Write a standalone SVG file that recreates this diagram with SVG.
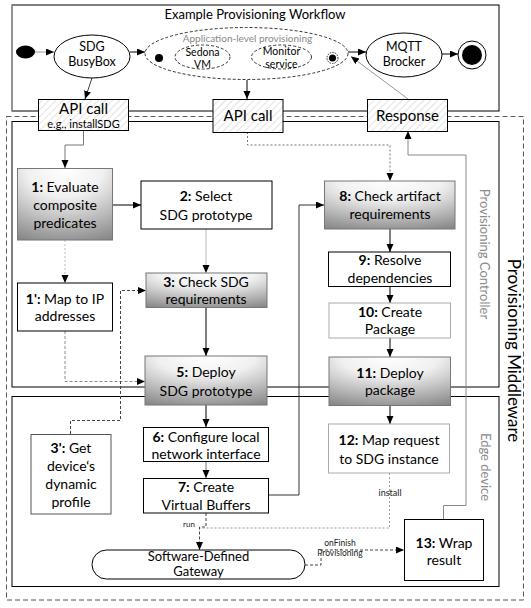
<svg xmlns="http://www.w3.org/2000/svg" width="531" height="608" viewBox="0 0 531 608">
<style>
text{font-family:Lato,"Open Sans","Liberation Sans",sans-serif;fill:#000}
.t14{font-size:14px;text-anchor:middle}
.t13{font-size:13px;text-anchor:middle}
.t12{font-size:12.5px;text-anchor:middle}
.t11{font-size:10.5px;text-anchor:middle}
.small{font-size:9px;text-anchor:middle;fill:#222}
.gl{font-size:13px;text-anchor:middle;fill:#8a8a8a}
.b{font-weight:bold}
.box{fill:#fff;stroke:#000;stroke-width:1}
.boxg{fill:#fff;stroke:#aaa;stroke-width:1}
.grad{fill:url(#g);stroke:#777;stroke-width:1}
.hat{fill:url(#h);stroke:#000;stroke-width:1}
.solid{fill:none;stroke:#000;stroke-width:1;marker-end:url(#a)}
.gray{fill:none;stroke:#999;stroke-width:1;marker-end:url(#a)}
.dot{fill:none;stroke:#777;stroke-width:1;stroke-dasharray:2,2;marker-end:url(#a)}
.dash{fill:none;stroke:#444;stroke-width:1;stroke-dasharray:3,2;marker-end:url(#a)}
.ell{fill:#fff;stroke:#000;stroke-width:1}
.elld{fill:#fff;stroke:#333;stroke-width:1;stroke-dasharray:3,2}
</style>
<defs>
<marker id="a" markerUnits="userSpaceOnUse" markerWidth="9" markerHeight="8" refX="8" refY="3.5" orient="auto"><path d="M0,0 L8,3.5 L0,7 z" fill="#000"/></marker>
<radialGradient id="g" cx="0.5" cy="0" r="1.15" fx="0.5" fy="0"><stop offset="0" stop-color="#ffffff"/><stop offset="0.35" stop-color="#f0f0f0"/><stop offset="1" stop-color="#7e7e7e"/></radialGradient>
<pattern id="h" patternUnits="userSpaceOnUse" width="5" height="5" patternTransform="rotate(45)"><rect width="5" height="5" fill="#fff"/><line x1="0" y1="0" x2="0" y2="5" stroke="#c8c8c8" stroke-width="1"/></pattern>
</defs>

<g id="containers">
<rect id="workflow-box" x="12" y="5" width="487" height="106" fill="#fff" stroke="#000"/>
<line x1="12" y1="5" x2="12" y2="111" stroke="#aaa"/>
<rect id="middleware-box" x="6.5" y="116.5" width="517" height="483.5" fill="none" stroke="#555" stroke-dasharray="5,3"/>
<rect id="controller-box" x="12" y="121.5" width="487" height="265.5" fill="none" stroke="#000"/>
<rect id="edge-box" x="12" y="396.5" width="487" height="190" fill="none" stroke="#000"/>
<text x="255" y="19" class="t13">Example Provisioning Workflow</text>
<text class="gl" transform="translate(480,254) rotate(90)">Provisioning Controller</text>
<text class="gl" transform="translate(481,467) rotate(90)">Edge device</text>
<text transform="translate(508,350.5) rotate(90)" style="font-size:17px;text-anchor:middle">Provisioning Middleware</text>
</g>

<g id="connectors">
<line x1="35" y1="52" x2="54" y2="52" class="gray"/>
<line x1="130" y1="52" x2="145" y2="52" class="solid"/>
<line x1="163" y1="58" x2="175" y2="58" class="dot"/>
<line x1="230" y1="57" x2="251" y2="57" class="dot" style="stroke:#bbb"/>
<line x1="312" y1="57" x2="326.5" y2="57" class="solid"/>
<line x1="348" y1="52" x2="366" y2="52" class="solid"/>
<line x1="442" y1="54" x2="458" y2="54" class="solid"/>
<line x1="92" y1="78" x2="85" y2="99" class="solid" style="stroke:#444"/>
<line x1="247" y1="80" x2="247" y2="99" class="solid"/>
<line x1="408" y1="99" x2="351" y2="56.5" class="gray"/>
<path d="M83.5,131 V145 H65 V168" class="gray" style="stroke:#777"/>
<path d="M247.5,132 V145 H390 V181" class="dot"/>
<path d="M113,205 H141" class="solid"/>
<path d="M206,229 V273" class="gray" style="stroke:#bbb"/>
<path d="M65,240 V283" class="dot" style="stroke:#bbb"/>
<path d="M206,307 V356" class="solid"/>
<path d="M65,331 V381.5 H145" class="dash" style="stroke:#888"/>
<path d="M70.5,434 V420.5 H120.5 V290.5 H146" class="dash"/>
<path d="M206,405 V427" class="solid"/>
<path d="M206,462 V478" class="gray" style="stroke:#777"/>
<path d="M268,495 H299 V205 H324" class="solid" style="stroke:#333"/>
<path d="M390,229 V252" class="solid"/>
<path d="M390,287 V303" class="solid"/>
<path d="M390,338 V357" class="solid"/>
<path d="M390,406 V424" class="solid"/>
<path d="M206,513 V527 H199.5 V550" class="dash"/>
<path d="M389.5,473 V528 H200" fill="none" stroke="#999" stroke-dasharray="2,2"/>
<path d="M305,565 H321 V550 H404" class="dash"/>
<path d="M443.5,519 V505.5 H466 V155 H408 V131" class="gray" style="stroke:#888"/>
<text x="189" y="527" class="small" style="font-size:8px">run</text>
<text x="390" y="496" class="small">install</text>
<text x="340" y="545.5" class="small" style="font-size:8.5px">onFinish</text>
<text x="340" y="556" class="small" style="font-size:8.5px">Provisioning</text>
</g>

<g id="start"><ellipse cx="25.5" cy="52" rx="9.5" ry="6.5" fill="#000"/></g>
<g id="sdg-busybox"><ellipse cx="92" cy="56.5" rx="38" ry="21.5" class="ell"/><text x="92" y="50.5" class="t12">SDG</text><text x="92" y="66" class="t12">BusyBox</text></g>
<g id="app-level"><ellipse cx="246.5" cy="53.5" rx="101.5" ry="26" class="elld"/><text x="247.5" y="41.5" style="font-size:10px;text-anchor:middle;fill:#888">Application-level provisioning</text></g>
<g id="app-start"><circle cx="159" cy="58" r="4" fill="#000"/></g>
<g id="sedona-vm"><ellipse cx="202.5" cy="57" rx="27.5" ry="12" class="elld"/><text x="202.5" y="55.5" class="t11">Sedona</text><text x="202.5" y="68" class="t11">VM</text></g>
<g id="monitor-service"><ellipse cx="281.5" cy="57" rx="30" ry="12" class="elld"/><text x="281.5" y="55" class="t11">Monitor</text><text x="281.5" y="67.5" class="t11">service</text></g>
<g id="app-end"><circle cx="332.5" cy="58" r="5.5" fill="#fff" stroke="#333" stroke-dasharray="1.5,1"/><circle cx="332.5" cy="58" r="3.5" fill="#000"/></g>
<g id="mqtt-brocker"><ellipse cx="404" cy="55" rx="38" ry="22" class="ell"/><text x="404" y="51" class="t12">MQTT</text><text x="404" y="66" class="t12">Brocker</text></g>
<g id="end"><circle cx="472" cy="55" r="14" fill="#fff" stroke="#000"/><circle cx="472" cy="55" r="10" fill="#000"/></g>

<g id="api-call-1"><rect x="38.5" y="99.5" width="90" height="31" class="hat"/><text x="83.5" y="113.5" class="t14" style="font-size:15px">API call</text><text x="83.5" y="128" class="t14" style="font-size:11px">e.g., installSDG</text></g>
<g id="api-call-2"><rect x="213" y="99.5" width="70" height="33" class="hat"/><text x="248" y="121" class="t14" style="font-size:15px">API call</text></g>
<g id="response"><rect x="367.5" y="99.5" width="80" height="32" class="hat"/><text x="407.5" y="121" class="t14" style="font-size:15px">Response</text></g>

<g id="n1"><rect x="17.5" y="168.5" width="95" height="71.5" class="grad"/><text x="65" y="191.5" class="t14"><tspan class="b">1:</tspan> Evaluate</text><text x="65" y="210" class="t14">composite</text><text x="65" y="228" class="t14">predicates</text></g>
<g id="n2"><rect x="141" y="181" width="131" height="48" class="box"/><text x="206" y="201" class="t14"><tspan class="b">2:</tspan> Select</text><text x="206" y="219.5" class="t14">SDG prototype</text></g>
<g id="n1p"><rect x="17.5" y="283" width="95" height="48" class="box"/><text x="65" y="303.5" class="t14"><tspan class="b">1':</tspan> Map to IP</text><text x="65" y="321" class="t14">addresses</text></g>
<g id="n3"><rect x="146" y="273" width="121" height="34.5" class="grad"/><text x="206" y="286.5" class="t14"><tspan class="b">3:</tspan> Check SDG</text><text x="206" y="304" class="t14">requirements</text></g>
<g id="n5"><rect x="145" y="356" width="122" height="49" class="grad"/><text x="206" y="377" class="t14"><tspan class="b">5:</tspan> Deploy</text><text x="206" y="395.5" class="t14">SDG prototype</text></g>
<g id="n3p"><rect x="31" y="434.5" width="80" height="79.5" class="box" style="stroke:#555"/><text x="71" y="452.5" class="t14"><tspan class="b">3':</tspan> Get</text><text x="71" y="470.5" class="t14">device‘s</text><text x="71" y="488.5" class="t14">dynamic</text><text x="71" y="507" class="t14">profile</text></g>
<g id="n6"><rect x="143.5" y="427.5" width="125" height="34" class="box"/><text x="206" y="442" class="t14"><tspan class="b">6:</tspan> Configure local</text><text x="206" y="459" class="t14">network interface</text></g>
<g id="n7"><rect x="143.5" y="478.5" width="125" height="34.5" class="box"/><text x="206" y="492" class="t14"><tspan class="b">7:</tspan> Create</text><text x="206" y="509.5" class="t14">Virtual Buffers</text></g>
<g id="n8"><rect x="324.5" y="181" width="130.5" height="48" class="grad"/><text x="390" y="201" class="t14"><tspan class="b">8:</tspan> Check artifact</text><text x="390" y="218.5" class="t14">requirements</text></g>
<g id="n9"><rect x="328.5" y="252" width="122" height="34.5" class="box"/><text x="390" y="264.5" class="t14"><tspan class="b">9:</tspan> Resolve</text><text x="390" y="282.5" class="t14">dependencies</text></g>
<g id="n10"><rect x="329" y="303" width="121.5" height="35" class="boxg"/><text x="390" y="317" class="t14"><tspan class="b">10:</tspan> Create</text><text x="390" y="334" class="t14">Package</text></g>
<g id="n11"><rect x="329" y="357" width="121.5" height="48.5" class="grad"/><text x="390" y="377.5" class="t14"><tspan class="b">11:</tspan> Deploy</text><text x="390" y="395" class="t14">package</text></g>
<g id="n12"><rect x="328.5" y="424" width="121" height="49" class="boxg"/><text x="389" y="445" class="t14"><tspan class="b">12:</tspan> Map request</text><text x="389" y="463.5" class="t14">to SDG instance</text></g>
<g id="n13"><rect x="404.5" y="519.5" width="79" height="61" class="box"/><text x="444" y="547.5" class="t14"><tspan class="b">13:</tspan> Wrap</text><text x="444" y="565" class="t14">result</text></g>
<g id="sdg"><rect x="92" y="550" width="213" height="29" rx="14.5" class="box"/><text x="198.5" y="561" class="t14" style="font-size:13px">Software-Defined</text><text x="198.5" y="575.5" class="t14" style="font-size:13px">Gateway</text></g>
</svg>
